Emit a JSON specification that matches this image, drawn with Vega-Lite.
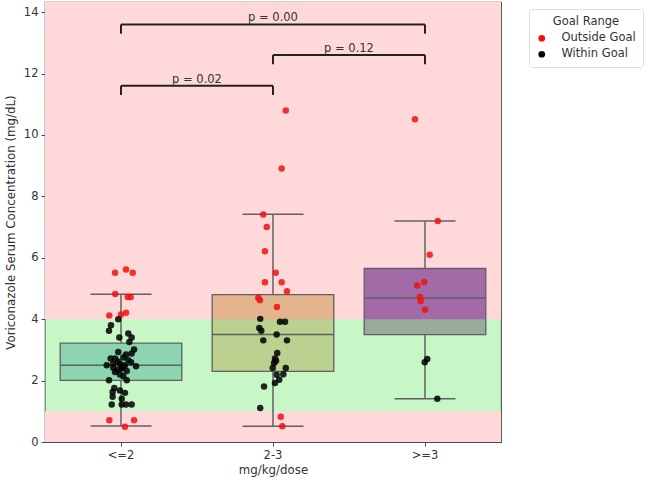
{
  "$schema": "https://vega.github.io/schema/vega-lite/v6.json",
  "width": 456,
  "height": 440,
  "autosize": {"type": "none"},
  "padding": {"left": 45, "top": 2, "right": 149, "bottom": 38},
  "background": "white",
  "config": {
    "font": "DejaVu Sans",
    "view": {"stroke": "#4a4a4a", "strokeWidth": 1.2},
    "axis": {
      "labelFontSize": 11.5,
      "labelColor": "#333333",
      "titleFontSize": 11.8,
      "titleFontWeight": "normal",
      "titleColor": "#333333",
      "tickColor": "#4a4a4a",
      "tickSize": 4,
      "domain": false,
      "grid": false,
      "labelPadding": 3
    }
  },
  "datasets": {
    "zones": [
      {"zone": "out", "lo": 0, "hi": 1},
      {"zone": "in", "lo": 1, "hi": 4},
      {"zone": "out", "lo": 4, "hi": 14.33}
    ],
    "stats": [
      {"dose": "<=2", "lo": 0.52, "q1": 2.01, "med": 2.5, "q3": 3.22, "hi": 4.81},
      {"dose": "2-3", "lo": 0.51, "q1": 2.3, "med": 3.5, "q3": 4.8, "hi": 7.42},
      {"dose": ">=3", "lo": 1.41, "q1": 3.5, "med": 4.69, "q3": 5.65, "hi": 7.2}
    ],
    "brackets": [
      {"from": "<=2", "to": "2-3", "y": 11.6, "lo": 11.3, "p": "p = 0.02", "span": "near"},
      {"from": "2-3", "to": ">=3", "y": 12.6, "lo": 12.3, "p": "p = 0.12", "span": "near"},
      {"from": "<=2", "to": ">=3", "y": 13.6, "lo": 13.3, "p": "p = 0.00", "span": "wide"}
    ],
    "levels": [
      {"dose": "<=2", "conc": 5.51, "jitter": -0.039, "goal": "Outside Goal"},
      {"dose": "<=2", "conc": 5.62, "jitter": 0.033, "goal": "Outside Goal"},
      {"dose": "<=2", "conc": 5.51, "jitter": 0.077, "goal": "Outside Goal"},
      {"dose": "<=2", "conc": 4.82, "jitter": -0.038, "goal": "Outside Goal"},
      {"dose": "<=2", "conc": 4.72, "jitter": 0.044, "goal": "Outside Goal"},
      {"dose": "<=2", "conc": 4.72, "jitter": 0.064, "goal": "Outside Goal"},
      {"dose": "<=2", "conc": 4.12, "jitter": -0.077, "goal": "Outside Goal"},
      {"dose": "<=2", "conc": 4.15, "jitter": 0.0, "goal": "Outside Goal"},
      {"dose": "<=2", "conc": 4.21, "jitter": 0.033, "goal": "Outside Goal"},
      {"dose": "<=2", "conc": 0.71, "jitter": -0.077, "goal": "Outside Goal"},
      {"dose": "<=2", "conc": 0.71, "jitter": 0.086, "goal": "Outside Goal"},
      {"dose": "<=2", "conc": 0.5, "jitter": 0.026, "goal": "Outside Goal"},
      {"dose": "<=2", "conc": 4.0, "jitter": -0.018, "goal": "Within Goal"},
      {"dose": "<=2", "conc": 3.8, "jitter": -0.066, "goal": "Within Goal"},
      {"dose": "<=2", "conc": 3.62, "jitter": -0.079, "goal": "Within Goal"},
      {"dose": "<=2", "conc": 3.4, "jitter": -0.011, "goal": "Within Goal"},
      {"dose": "<=2", "conc": 3.53, "jitter": 0.048, "goal": "Within Goal"},
      {"dose": "<=2", "conc": 3.4, "jitter": 0.07, "goal": "Within Goal"},
      {"dose": "<=2", "conc": 3.26, "jitter": 0.055, "goal": "Within Goal"},
      {"dose": "<=2", "conc": 3.01, "jitter": 0.086, "goal": "Within Goal"},
      {"dose": "<=2", "conc": 2.88, "jitter": 0.07, "goal": "Within Goal"},
      {"dose": "<=2", "conc": 2.93, "jitter": -0.018, "goal": "Within Goal"},
      {"dose": "<=2", "conc": 2.72, "jitter": -0.068, "goal": "Within Goal"},
      {"dose": "<=2", "conc": 2.72, "jitter": -0.039, "goal": "Within Goal"},
      {"dose": "<=2", "conc": 2.75, "jitter": 0.015, "goal": "Within Goal"},
      {"dose": "<=2", "conc": 2.66, "jitter": 0.048, "goal": "Within Goal"},
      {"dose": "<=2", "conc": 2.5, "jitter": -0.094, "goal": "Within Goal"},
      {"dose": "<=2", "conc": 2.55, "jitter": -0.051, "goal": "Within Goal"},
      {"dose": "<=2", "conc": 2.55, "jitter": -0.007, "goal": "Within Goal"},
      {"dose": "<=2", "conc": 2.5, "jitter": 0.026, "goal": "Within Goal"},
      {"dose": "<=2", "conc": 2.47, "jitter": 0.099, "goal": "Within Goal"},
      {"dose": "<=2", "conc": 2.42, "jitter": -0.051, "goal": "Within Goal"},
      {"dose": "<=2", "conc": 2.39, "jitter": 0.005, "goal": "Within Goal"},
      {"dose": "<=2", "conc": 2.31, "jitter": 0.038, "goal": "Within Goal"},
      {"dose": "<=2", "conc": 2.28, "jitter": -0.039, "goal": "Within Goal"},
      {"dose": "<=2", "conc": 2.14, "jitter": 0.015, "goal": "Within Goal"},
      {"dose": "<=2", "conc": 2.01, "jitter": 0.038, "goal": "Within Goal"},
      {"dose": "<=2", "conc": 2.01, "jitter": -0.079, "goal": "Within Goal"},
      {"dose": "<=2", "conc": 1.76, "jitter": -0.044, "goal": "Within Goal"},
      {"dose": "<=2", "conc": 1.68, "jitter": -0.007, "goal": "Within Goal"},
      {"dose": "<=2", "conc": 1.63, "jitter": -0.055, "goal": "Within Goal"},
      {"dose": "<=2", "conc": 1.6, "jitter": 0.026, "goal": "Within Goal"},
      {"dose": "<=2", "conc": 1.47, "jitter": -0.055, "goal": "Within Goal"},
      {"dose": "<=2", "conc": 1.41, "jitter": 0.005, "goal": "Within Goal"},
      {"dose": "<=2", "conc": 1.22, "jitter": -0.061, "goal": "Within Goal"},
      {"dose": "<=2", "conc": 1.22, "jitter": 0.005, "goal": "Within Goal"},
      {"dose": "<=2", "conc": 1.22, "jitter": 0.07, "goal": "Within Goal"},
      {"dose": "<=2", "conc": 1.22, "jitter": 0.033, "goal": "Within Goal"},
      {"dose": "<=2", "conc": 2.62, "jitter": -0.02, "goal": "Within Goal"},
      {"dose": "<=2", "conc": 2.45, "jitter": 0.013, "goal": "Within Goal"},
      {"dose": "<=2", "conc": 2.35, "jitter": -0.02, "goal": "Within Goal"},
      {"dose": "<=2", "conc": 2.85, "jitter": 0.033, "goal": "Within Goal"},
      {"dose": "<=2", "conc": 2.2, "jitter": -0.007, "goal": "Within Goal"},
      {"dose": "<=2", "conc": 2.6, "jitter": 0.066, "goal": "Within Goal"},
      {"dose": "2-3", "conc": 10.8, "jitter": 0.084, "goal": "Outside Goal"},
      {"dose": "2-3", "conc": 8.91, "jitter": 0.057, "goal": "Outside Goal"},
      {"dose": "2-3", "conc": 7.41, "jitter": -0.064, "goal": "Outside Goal"},
      {"dose": "2-3", "conc": 7.0, "jitter": -0.041, "goal": "Outside Goal"},
      {"dose": "2-3", "conc": 6.21, "jitter": -0.053, "goal": "Outside Goal"},
      {"dose": "2-3", "conc": 5.51, "jitter": 0.018, "goal": "Outside Goal"},
      {"dose": "2-3", "conc": 5.2, "jitter": -0.053, "goal": "Outside Goal"},
      {"dose": "2-3", "conc": 5.2, "jitter": 0.057, "goal": "Outside Goal"},
      {"dose": "2-3", "conc": 4.91, "jitter": 0.092, "goal": "Outside Goal"},
      {"dose": "2-3", "conc": 4.7, "jitter": -0.097, "goal": "Outside Goal"},
      {"dose": "2-3", "conc": 4.62, "jitter": -0.086, "goal": "Outside Goal"},
      {"dose": "2-3", "conc": 4.4, "jitter": 0.026, "goal": "Outside Goal"},
      {"dose": "2-3", "conc": 0.82, "jitter": 0.051, "goal": "Outside Goal"},
      {"dose": "2-3", "conc": 0.51, "jitter": 0.061, "goal": "Outside Goal"},
      {"dose": "2-3", "conc": 4.01, "jitter": -0.084, "goal": "Within Goal"},
      {"dose": "2-3", "conc": 3.92, "jitter": 0.046, "goal": "Within Goal"},
      {"dose": "2-3", "conc": 3.92, "jitter": 0.079, "goal": "Within Goal"},
      {"dose": "2-3", "conc": 3.71, "jitter": -0.09, "goal": "Within Goal"},
      {"dose": "2-3", "conc": 3.62, "jitter": -0.077, "goal": "Within Goal"},
      {"dose": "2-3", "conc": 3.5, "jitter": 0.024, "goal": "Within Goal"},
      {"dose": "2-3", "conc": 3.31, "jitter": -0.064, "goal": "Within Goal"},
      {"dose": "2-3", "conc": 3.31, "jitter": 0.092, "goal": "Within Goal"},
      {"dose": "2-3", "conc": 2.9, "jitter": 0.028, "goal": "Within Goal"},
      {"dose": "2-3", "conc": 2.72, "jitter": 0.013, "goal": "Within Goal"},
      {"dose": "2-3", "conc": 2.65, "jitter": 0.02, "goal": "Within Goal"},
      {"dose": "2-3", "conc": 2.57, "jitter": 0.007, "goal": "Within Goal"},
      {"dose": "2-3", "conc": 2.41, "jitter": -0.002, "goal": "Within Goal"},
      {"dose": "2-3", "conc": 2.41, "jitter": 0.084, "goal": "Within Goal"},
      {"dose": "2-3", "conc": 2.19, "jitter": 0.024, "goal": "Within Goal"},
      {"dose": "2-3", "conc": 2.21, "jitter": 0.068, "goal": "Within Goal"},
      {"dose": "2-3", "conc": 2.03, "jitter": 0.041, "goal": "Within Goal"},
      {"dose": "2-3", "conc": 1.92, "jitter": 0.013, "goal": "Within Goal"},
      {"dose": "2-3", "conc": 1.81, "jitter": -0.059, "goal": "Within Goal"},
      {"dose": "2-3", "conc": 1.11, "jitter": -0.084, "goal": "Within Goal"},
      {"dose": ">=3", "conc": 10.51, "jitter": -0.066, "goal": "Outside Goal"},
      {"dose": ">=3", "conc": 7.2, "jitter": 0.084, "goal": "Outside Goal"},
      {"dose": ">=3", "conc": 6.1, "jitter": 0.031, "goal": "Outside Goal"},
      {"dose": ">=3", "conc": 5.1, "jitter": -0.051, "goal": "Outside Goal"},
      {"dose": ">=3", "conc": 5.21, "jitter": -0.005, "goal": "Outside Goal"},
      {"dose": ">=3", "conc": 4.72, "jitter": -0.033, "goal": "Outside Goal"},
      {"dose": ">=3", "conc": 4.59, "jitter": -0.028, "goal": "Outside Goal"},
      {"dose": ">=3", "conc": 4.31, "jitter": 0.0, "goal": "Outside Goal"},
      {"dose": ">=3", "conc": 2.7, "jitter": 0.015, "goal": "Within Goal"},
      {"dose": ">=3", "conc": 2.6, "jitter": -0.002, "goal": "Within Goal"},
      {"dose": ">=3", "conc": 1.41, "jitter": 0.081, "goal": "Within Goal"}
    ]
  },
  "encoding": {
    "y": {
      "type": "quantitative",
      "scale": {"domain": [0, 14.33], "nice": false, "zero": false},
      "axis": {
        "title": "Voriconazole Serum Concentration (mg/dL)",
        "values": [0, 2, 4, 6, 8, 10, 12, 14],
        "titlePadding": 7
      }
    }
  },
  "layer": [
    {
      "data": {"name": "zones"},
      "transform": [{"filter": "datum.zone === 'out'"}],
      "mark": {"type": "rect", "color": "#ffd9d9"},
      "encoding": {"y": {"field": "lo"}, "y2": {"field": "hi"}}
    },
    {
      "data": {"name": "stats"},
      "mark": {"type": "bar", "width": 121.6},
      "encoding": {
        "x": {
          "field": "dose",
          "type": "nominal",
          "sort": ["<=2", "2-3", ">=3"],
          "scale": {"domain": ["<=2", "2-3", ">=3"], "paddingInner": 0.2, "paddingOuter": 0.1},
          "axis": {"title": "mg/kg/dose", "labelAngle": 0, "titlePadding": 4}
        },
        "y": {"field": "q1"},
        "y2": {"field": "q3"},
        "fill": {
          "field": "dose",
          "type": "nominal",
          "scale": {"domain": ["<=2", "2-3", ">=3"], "range": ["#86bed2", "#e4b48e", "#a36aa8"]},
          "legend": null
        }
      }
    },
    {
      "data": {"name": "zones"},
      "transform": [{"filter": "datum.zone === 'in'"}],
      "mark": {"type": "rect", "color": "#90ee90", "opacity": 0.5},
      "encoding": {"y": {"field": "lo"}, "y2": {"field": "hi"}}
    },
    {
      "data": {"name": "stats"},
      "mark": {"type": "bar", "width": 121.6, "fillOpacity": 0, "stroke": "#606060", "strokeWidth": 1.3},
      "encoding": {
        "x": {"field": "dose", "type": "nominal"},
        "y": {"field": "q1"},
        "y2": {"field": "q3"}
      }
    },
    {
      "data": {"name": "stats"},
      "mark": {"type": "rule", "color": "#606060", "strokeWidth": 1.5},
      "encoding": {
        "x": {"field": "dose", "type": "nominal"},
        "y": {"field": "lo"},
        "y2": {"field": "q1"}
      }
    },
    {
      "data": {"name": "stats"},
      "mark": {"type": "rule", "color": "#606060", "strokeWidth": 1.5},
      "encoding": {
        "x": {"field": "dose", "type": "nominal"},
        "y": {"field": "q3"},
        "y2": {"field": "hi"}
      }
    },
    {
      "data": {"name": "stats"},
      "mark": {"type": "tick", "color": "#606060", "size": 61, "thickness": 1.5, "opacity": 1},
      "encoding": {"x": {"field": "dose", "type": "nominal"}, "y": {"field": "lo"}}
    },
    {
      "data": {"name": "stats"},
      "mark": {"type": "tick", "color": "#606060", "size": 61, "thickness": 1.5, "opacity": 1},
      "encoding": {"x": {"field": "dose", "type": "nominal"}, "y": {"field": "hi"}}
    },
    {
      "data": {"name": "stats"},
      "mark": {"type": "tick", "color": "#606060", "size": 122, "thickness": 1.5, "opacity": 1},
      "encoding": {"x": {"field": "dose", "type": "nominal"}, "y": {"field": "med"}}
    },
    {
      "data": {"name": "levels"},
      "mark": {"type": "circle", "size": 42, "opacity": 0.85},
      "encoding": {
        "x": {"field": "dose", "type": "nominal"},
        "xOffset": {"field": "jitter", "type": "quantitative", "scale": {"domain": [-0.4, 0.4]}},
        "y": {"field": "conc"},
        "color": {
          "field": "goal",
          "type": "nominal",
          "scale": {"domain": ["Outside Goal", "Within Goal"], "range": ["#f01010", "#000000"]},
          "legend": {
            "title": "Goal Range",
            "orient": "none",
            "legendX": 484,
            "legendY": 7,
            "titleAnchor": "middle",
            "titleFontSize": 11.5,
            "titleFontWeight": "normal",
            "titleColor": "#333333",
            "labelFontSize": 11.5,
            "labelColor": "#333333",
            "symbolType": "circle",
            "symbolSize": 45,
            "symbolOpacity": 1,
            "strokeColor": "#dddddd",
            "fillColor": "white",
            "padding": 7,
            "cornerRadius": 3,
            "labelOffset": 14,
            "rowPadding": 3
          }
        }
      }
    },
    {
      "data": {"name": "brackets"},
      "mark": {"type": "rule", "color": "#222222", "strokeWidth": 2},
      "encoding": {
        "x": {"field": "from", "type": "nominal"},
        "x2": {"field": "to"},
        "y": {"field": "y"}
      }
    },
    {
      "data": {"name": "brackets"},
      "mark": {"type": "rule", "color": "#222222", "strokeWidth": 2},
      "encoding": {
        "x": {"field": "from", "type": "nominal"},
        "y": {"field": "lo"},
        "y2": {"field": "y"}
      }
    },
    {
      "data": {"name": "brackets"},
      "mark": {"type": "rule", "color": "#222222", "strokeWidth": 2},
      "encoding": {
        "x": {"field": "to", "type": "nominal"},
        "y": {"field": "lo"},
        "y2": {"field": "y"}
      }
    },
    {
      "data": {"name": "brackets"},
      "transform": [{"filter": "datum.span === 'near'"}],
      "mark": {"type": "text", "baseline": "bottom", "fontSize": 11.5, "color": "#333333", "dy": -1},
      "encoding": {
        "x": {"field": "from", "type": "nominal", "bandPosition": 1.125},
        "y": {"field": "y"},
        "text": {"field": "p"}
      }
    },
    {
      "data": {"name": "brackets"},
      "transform": [{"filter": "datum.span === 'wide'"}],
      "mark": {"type": "text", "baseline": "bottom", "fontSize": 11.5, "color": "#333333", "dy": -1},
      "encoding": {
        "x": {"field": "from", "type": "nominal", "bandPosition": 1.75},
        "y": {"field": "y"},
        "text": {"field": "p"}
      }
    }
  ]
}
